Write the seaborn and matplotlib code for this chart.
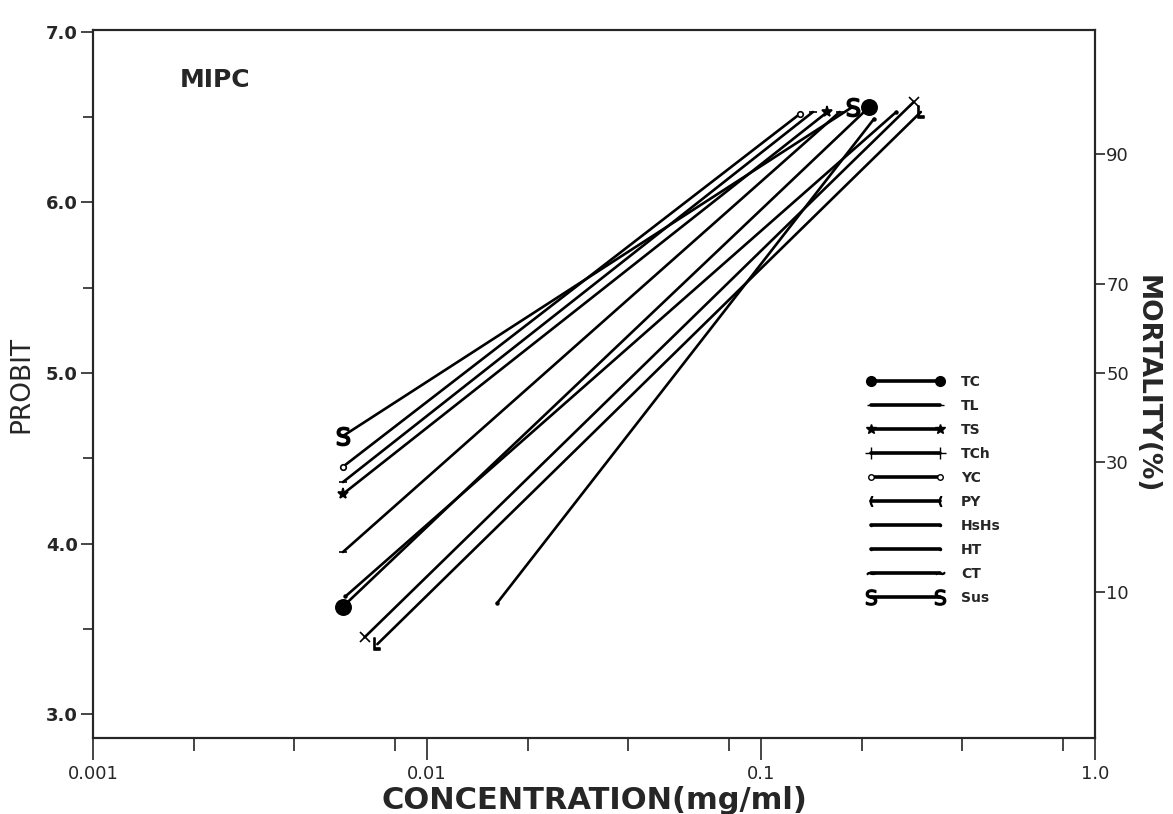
import numpy as np
import pandas as pd
import matplotlib
matplotlib.use("Agg")
import matplotlib.pyplot as plt
from matplotlib.lines import Line2D
from matplotlib.ticker import NullFormatter
import seaborn as sns

# probit regression lines, one per population
series = ["TC", "TL", "TS", "TCh", "YC", "PY", "HsHs", "HT", "CT", "Sus"]
conc_low = [0.0056, 0.0056, 0.0056, 0.0065, 0.0056, 0.0071, 0.0162, 0.0057, 0.0056, 0.0056]
probit_low = [3.63, 4.36, 4.29, 3.45, 4.45, 3.41, 3.65, 3.69, 3.95, 4.63]
conc_high = [0.211, 0.143, 0.158, 0.287, 0.131, 0.301, 0.218, 0.254, 0.172, 0.188]
probit_high = [6.56, 6.53, 6.53, 6.59, 6.52, 6.53, 6.49, 6.53, 6.53, 6.56]

# end markers on the plot and in the legend
plot_markers = ["o", "_", "*", "x", "o", "$\\mathsf{L}$", ".", ".", "_", "$\\mathsf{S}$"]
legend_markers = ["o", "_", "*", "+", "o", "$($", ".", ".", "$\\sim$", "$\\mathsf{S}$"]
marker_sizes = [11, 6, 8, 7, 4, 8, 4, 4, 6, 13]
legend_sizes = [7, 6, 7, 8, 4, 7, 3, 3, 6, 11]

x_ticks = [0.001, 0.01, 0.1, 1.0]
x_ticklabels = ["0.001", "0.01", "0.1", "1.0"]
x_minor = [0.002, 0.004, 0.008, 0.02, 0.04, 0.08, 0.2, 0.4, 0.8]
y_ticks = [3.0, 4.0, 5.0, 6.0, 7.0]
y_minor = [3.5, 4.5, 5.5, 6.5]
mort_labels = ["10", "30", "50", "70", "90"]
mort_probits = [3.7184, 4.4756, 5.0, 5.5244, 6.2816]

sns.set_style("ticks")
plt.rcParams["font.family"] = ["DejaVu Sans"]

df = pd.DataFrame({
    "series": series + series,
    "conc": conc_low + conc_high,
    "probit": probit_low + probit_high,
})

fig, ax = plt.subplots(figsize=(11.73, 8.14), dpi=100)
fig.subplots_adjust(left=0.0793, right=0.9335, bottom=0.0934, top=0.963)

sns.lineplot(data=df, x="conc", y="probit", units="series", estimator=None,
             sort=False, color="black", lw=1.9, ax=ax)

for i, s in enumerate(series):
    hollow = s == "YC"
    ax.plot([conc_low[i], conc_high[i]], [probit_low[i], probit_high[i]],
            ls="none", marker=plot_markers[i], ms=marker_sizes[i],
            color="black", mfc="white" if hollow else "black", mew=1.2,
            zorder=3)

ax.set_xscale("log")
ax.set_xlim(0.001, 1.0)
ax.set_ylim(2.86, 7.01)
ax.set_xticks(x_ticks)
ax.set_xticklabels(x_ticklabels, fontsize=13)
ax.set_xticks(x_minor, minor=True)
ax.xaxis.set_minor_formatter(NullFormatter())
ax.set_yticks(y_ticks)
ax.set_yticklabels([f"{v:.1f}" for v in y_ticks], fontsize=13, fontweight="bold")
ax.set_yticks(y_minor, minor=True)
ax.tick_params(axis="x", which="major", direction="out", length=16, width=1.2)
ax.tick_params(axis="x", which="minor", direction="out", length=9, width=1.2)
ax.tick_params(axis="y", which="major", direction="out", length=9, width=1.2, pad=2)
ax.tick_params(axis="y", which="minor", direction="out", length=7, width=1.2)
for sp in ax.spines.values():
    sp.set_linewidth(1.5)
    sp.set_color("black")

ax.set_xlabel("CONCENTRATION(mg/ml)", fontsize=22, fontweight="bold", labelpad=2)
ax.set_ylabel("PROBIT", fontsize=19, labelpad=8)
ax.text(0.087, 0.93, "MIPC", transform=ax.transAxes, fontsize=18,
        fontweight="bold", ha="left", va="center")

ax2 = ax.twinx()
ax2.set_ylim(ax.get_ylim())
ax2.set_yticks(mort_probits)
ax2.set_yticklabels(mort_labels, fontsize=13)
ax2.tick_params(axis="y", direction="out", length=7, width=1.2, pad=1)
ax2.set_ylabel("MORTALITY(%)", fontsize=19, fontweight="bold", rotation=270,
               labelpad=22)
for sp in ax2.spines.values():
    sp.set_linewidth(1.5)

handles = [
    Line2D([], [], color="black", lw=2.6, marker=m, ms=legend_sizes[i],
           mfc="white" if series[i] == "YC" else "black")
    for i, m in enumerate(legend_markers)
]
ax.legend(handles, series, loc="upper left", bbox_to_anchor=(0.772, 0.513),
          frameon=False, numpoints=2, handlelength=5.6, handletextpad=1.2,
          labelspacing=0.72, borderaxespad=0, borderpad=0,
          prop={"size": 10, "weight": "bold"})

fig.savefig("out.png", dpi=100)
